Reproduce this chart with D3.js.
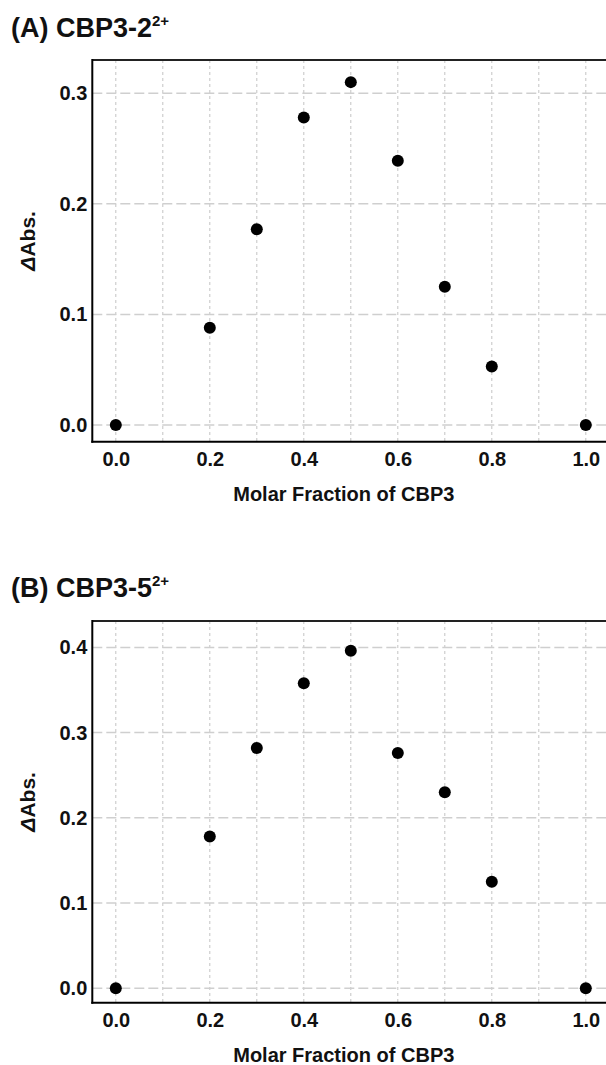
<!DOCTYPE html>
<html>
<head>
<meta charset="utf-8">
<script src="https://cdn.jsdelivr.net/npm/d3@7"></script>
<style>
  html, body { margin: 0; padding: 0; background: #fff; }
  svg { display: block; }
  text { font-family: "Liberation Sans", Arial, sans-serif; font-weight: bold; fill: #111; }
</style>
</head>
<body>
<script>
// ---- Data ----
const molarFraction = [0.0, 0.2, 0.3, 0.4, 0.5, 0.6, 0.7, 0.8, 1.0];
const deltaAbsA = [0.000, 0.088, 0.177, 0.278, 0.310, 0.239, 0.125, 0.053, 0.000];
const deltaAbsB = [0.000, 0.178, 0.282, 0.358, 0.396, 0.276, 0.230, 0.125, 0.000];
const xTicks = [0.0, 0.2, 0.4, 0.6, 0.8, 1.0];
const xGrid = [0.0, 0.1, 0.2, 0.3, 0.4, 0.5, 0.6, 0.7, 0.8, 0.9, 1.0];
const yTicksA = [0.0, 0.1, 0.2, 0.3];
const yTicksB = [0.0, 0.1, 0.2, 0.3, 0.4];
const xDomain = [-0.05, 1.05];
const yDomainA = [-0.015, 0.33];
const yDomainB = [-0.017, 0.431];
const titleMainA = "(A) CBP3-2", titleSupA = "2+";
const titleMainB = "(B) CBP3-5", titleSupB = "2+";
const xTitle = "Molar Fraction of CBP3";
const yTitleDelta = "Δ", yTitleRest = "Abs.";

const W = 606, H = 1065;
const svg = d3.select("body").append("svg").attr("width", W).attr("height", H);

function panel(opts) {
  const { top, bottom, values, yDomain, yTicks, titleMain, titleSup, titleY } = opts;
  const left = 92.3, right = 609.3;
  const g = svg.append("g");
  const x = d3.scaleLinear().domain(xDomain).range([left, right]);
  const y = d3.scaleLinear().domain(yDomain).range([bottom, top]);

  // vertical dotted grid
  g.append("g").selectAll("line").data(xGrid).join("line")
    .attr("x1", d => x(d)).attr("x2", d => x(d))
    .attr("y1", top).attr("y2", bottom)
    .attr("stroke", "#c4c4c4").attr("stroke-width", 1)
    .attr("stroke-dasharray", "3,3");

  // horizontal dashed grid
  g.append("g").selectAll("line").data(yTicks).join("line")
    .attr("x1", left).attr("x2", right)
    .attr("y1", d => y(d)).attr("y2", d => y(d))
    .attr("stroke", "#cfcfcf").attr("stroke-width", 1.5)
    .attr("stroke-dasharray", "10,4");

  // frame
  g.append("line").attr("x1", left).attr("x2", right).attr("y1", top).attr("y2", top)
    .attr("stroke", "#222").attr("stroke-width", 2);
  g.append("line").attr("x1", left).attr("x2", left).attr("y1", top - 1).attr("y2", bottom + 1)
    .attr("stroke", "#000").attr("stroke-width", 2);
  g.append("line").attr("x1", left - 1).attr("x2", right).attr("y1", bottom).attr("y2", bottom)
    .attr("stroke", "#000").attr("stroke-width", 2);
  g.append("line").attr("x1", right).attr("x2", right).attr("y1", top).attr("y2", bottom)
    .attr("stroke", "#000").attr("stroke-width", 2);

  // axes
  const xAxis = g.append("g").attr("transform", `translate(0,${bottom})`)
    .call(d3.axisBottom(x).tickValues(xTicks).tickSize(0).tickPadding(10).tickFormat(d3.format(".1f")));
  xAxis.select(".domain").remove();
  xAxis.selectAll("text").attr("font-size", 20).attr("font-family", "Liberation Sans, Arial, sans-serif").attr("font-weight", "bold").attr("fill", "#111");

  const yAxis = g.append("g").attr("transform", `translate(${left},0)`)
    .call(d3.axisLeft(y).tickValues(yTicks).tickSize(0).tickPadding(5).tickFormat(d3.format(".1f")));
  yAxis.select(".domain").remove();
  yAxis.selectAll("text").attr("font-size", 20).attr("font-family", "Liberation Sans, Arial, sans-serif").attr("font-weight", "bold").attr("fill", "#111");

  // points
  g.append("g").selectAll("circle").data(molarFraction).join("circle")
    .attr("cx", d => x(d)).attr("cy", (d, i) => y(values[i]))
    .attr("r", 6).attr("fill", "#000");

  // axis titles
  g.append("text").attr("x", x(0.5) - 7).attr("y", bottom + 59)
    .attr("text-anchor", "middle").attr("font-size", 20).text(xTitle);

  const yt = g.append("text")
    .attr("transform", `translate(35,${(top + bottom) / 2 - 10}) rotate(-90)`)
    .attr("text-anchor", "middle").attr("font-size", 21);
  yt.append("tspan").attr("font-style", "italic").text(yTitleDelta);
  yt.append("tspan").text(yTitleRest);

  // panel title
  const t = g.append("text").attr("x", 11).attr("y", titleY).attr("font-size", 27);
  t.append("tspan").text(titleMain);
  t.append("tspan").attr("font-size", 15).attr("dy", -11).text(titleSup);
}

panel({ top: 60, bottom: 441.7, values: deltaAbsA, yDomain: yDomainA, yTicks: yTicksA,
        titleMain: titleMainA, titleSup: titleSupA, titleY: 36.5 });
panel({ top: 621, bottom: 1002.7, values: deltaAbsB, yDomain: yDomainB, yTicks: yTicksB,
        titleMain: titleMainB, titleSup: titleSupB, titleY: 597 });
</script>
</body>
</html>
